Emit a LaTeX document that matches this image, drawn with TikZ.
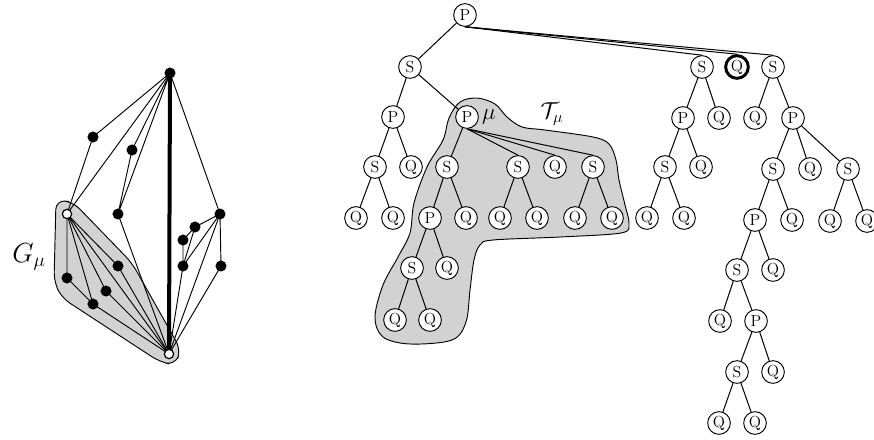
\documentclass[tikz,border=0pt]{standalone}
\begin{document}
\begin{tikzpicture}[x=0.75pt,y=-0.75pt,
  tn/.style={circle,draw,fill=white,line width=0.7pt,minimum size=17pt,inner sep=0pt,font=\fontsize{12}{13}\selectfont},
  tbold/.style={tn,line width=2.2pt},
  te/.style={line width=0.75pt},
  bv/.style={circle,fill=black,minimum size=8.3pt,inner sep=0pt},
  wv/.style={circle,draw,fill=white,line width=0.9pt,minimum size=7pt,inner sep=0pt},
  ge/.style={line width=0.7pt},
  shade/.style={fill=gray!35,draw=black,line width=0.7pt}]
\useasboundingbox (0,0) rectangle (874,439);

% ---------- left graph ----------
\draw[shade,rounded corners=7pt] (56,200) -- (73,202) -- (132,263) -- (181,350) -- (175,365) -- (160,362) -- (62,298) -- (54,282) -- cycle;

\coordinate (T) at (170,73);
\coordinate (B) at (169,354);
\coordinate (W) at (67,214);
\coordinate (va) at (93,137);
\coordinate (vb) at (132,150);
\coordinate (vc) at (118,214);
\coordinate (vd) at (220,214);
\coordinate (ve) at (195,227);
\coordinate (vf) at (183,240);
\coordinate (vg) at (183,266);
\coordinate (vh) at (221,266);
\coordinate (vi) at (67,278);
\coordinate (vj) at (93,304);
\coordinate (vk) at (106,291);
\coordinate (vl) at (118,266);

\draw[ge] (T) -- (va) -- (W) -- (T);
\draw[ge] (T) -- (vb) -- (vc) -- (T);
\draw[ge] (vc) -- (B);
\draw[ge] (T) -- (vd) -- (ve) -- (vf) -- (vg) -- (ve);
\draw[ge] (vg) -- (vd) -- (vh) -- (B);
\draw[ge] (vd) -- (B);
\draw[ge] (vg) -- (B);
\draw[ge] (W) -- (vi) -- (vj) -- (W);
\draw[ge] (W) -- (vk) -- (B);
\draw[ge] (vj) -- (B);
\draw[ge] (W) -- (B);
\draw[ge] (W) -- (vl) -- (B);
\draw[line width=3pt] (T) -- (B);

\foreach \v in {va,vb,vc,vd,ve,vf,vg,vh,vi,vj,vk,vl,T}
  \node[bv] (n\v) at (\v) {};
\node[wv] (nW) at (W) {};
\node[wv] (nB) at (B) {};

\node[font=\fontsize{20}{24}\selectfont] (Glab) at (29,257) {$G_\mu$};

% ---------- tree ----------
\draw[shade] plot[smooth cycle,tension=0.55] coordinates {
 (460,102) (477,98) (495,104) (507,117) (522,127) (545,130) (593,137)
 (609,144) (616,160) (619,180) (625,205) (629,224) (621,233) (560,237)
 (493,240) (480,245) (474,260) (470,290) (466,322) (452,340) (410,344)
 (383,337) (375,317) (383,285) (398,257) (410,233) (414,203) (427,167)
 (443,140) (449,118)};

\node[tn] (r) at (465,15) {P};
\node[tn] (s1) at (410,67) {S};
\node[tn] (s2) at (702,67) {S};
\node[tbold] (qb) at (737,67) {Q};
\node[tn] (s3) at (773,67) {S};

\node[tn] (p1) at (393,117) {P};
\node[tn] (pm) at (467,117) {P};
\node[tn] (p2) at (683,118) {P};
\node[tn] (q2) at (719,118) {Q};
\node[tn] (q3) at (755,118) {Q};
\node[tn] (p3) at (793,118) {P};

\node[tn] (a1) at (375,167) {S};
\node[tn] (a2) at (411,167) {Q};
\node[tn] (b1) at (447,167) {S};
\node[tn] (b2) at (518,167) {S};
\node[tn] (b3) at (555,167) {Q};
\node[tn] (b4) at (593,167) {S};
\node[tn] (c1) at (665,167) {S};
\node[tn] (c2) at (701,167) {Q};
\node[tn] (d1) at (773,169) {S};
\node[tn] (d2) at (810,169) {Q};
\node[tn] (d3) at (848,169) {S};

\node[tn] (a11) at (356,218) {Q};
\node[tn] (a12) at (393,218) {Q};
\node[tn] (e1) at (430,218) {P};
\node[tn] (b12) at (466,218) {Q};
\node[tn] (b21) at (500,218) {Q};
\node[tn] (b22) at (537,218) {Q};
\node[tn] (b41) at (575,218) {Q};
\node[tn] (b42) at (612,218) {Q};
\node[tn] (c11) at (647,218) {Q};
\node[tn] (c12) at (684,218) {Q};
\node[tn] (f1) at (755,220) {P};
\node[tn] (d12) at (792,220) {Q};
\node[tn] (d31) at (830,221) {Q};
\node[tn] (d32) at (867,221) {Q};

\node[tn] (e2) at (412,268) {S};
\node[tn] (e12) at (447,268) {Q};
\node[tn] (f2) at (737,270) {S};
\node[tn] (f12) at (773,270) {Q};

\node[tn] (e21) at (395,320) {Q};
\node[tn] (e22) at (430,320) {Q};
\node[tn] (f21) at (720,321) {Q};
\node[tn] (f3) at (756,321) {P};

\node[tn] (f4) at (737,372) {S};
\node[tn] (f32) at (773,372) {Q};
\node[tn] (f41) at (719,423) {Q};
\node[tn] (f42) at (755,423) {Q};

% edges
\draw[te] (r) -- (s1);
\draw[te] (r.south) -- (s2.north);
\draw[te] (r.south) -- (qb.north);
\draw[te] (r.south) -- (s3.north);
\draw[te] (s1) -- (p1);
\draw[te] (s1) -- (pm);
\draw[te] (s2) -- (p2);
\draw[te] (s2) -- (q2);
\draw[te] (s3) -- (q3);
\draw[te] (s3) -- (p3);
\draw[te] (p1) -- (a1);
\draw[te] (p1) -- (a2);
\draw[te] (pm) -- (b1);
\draw[te] (pm.south) -- (b2.north);
\draw[te] (pm.south) -- (b3.north);
\draw[te] (pm.south) -- (b4.north);
\draw[te] (p2) -- (c1);
\draw[te] (p2) -- (c2);
\draw[te] (p3) -- (d1);
\draw[te] (p3) -- (d2);
\draw[te] (p3) -- (d3);
\draw[te] (a1) -- (a11);
\draw[te] (a1) -- (a12);
\draw[te] (b1) -- (e1);
\draw[te] (b1) -- (b12);
\draw[te] (b2) -- (b21);
\draw[te] (b2) -- (b22);
\draw[te] (b4) -- (b41);
\draw[te] (b4) -- (b42);
\draw[te] (c1) -- (c11);
\draw[te] (c1) -- (c12);
\draw[te] (d1) -- (f1);
\draw[te] (d1) -- (d12);
\draw[te] (d3) -- (d31);
\draw[te] (d3) -- (d32);
\draw[te] (e1) -- (e2);
\draw[te] (e1) -- (e12);
\draw[te] (f1) -- (f2);
\draw[te] (f1) -- (f12);
\draw[te] (e2) -- (e21);
\draw[te] (e2) -- (e22);
\draw[te] (f2) -- (f21);
\draw[te] (f2) -- (f3);
\draw[te] (f3) -- (f4);
\draw[te] (f3) -- (f32);
\draw[te] (f4) -- (f41);
\draw[te] (f4) -- (f42);

\node[font=\fontsize{18}{22}\selectfont] (mulab) at (489,117) {$\mu$};
\node[font=\fontsize{18}{22}\selectfont] (Tlab) at (552,114) {$\mathcal{T}_\mu$};
\end{tikzpicture}
\end{document}
